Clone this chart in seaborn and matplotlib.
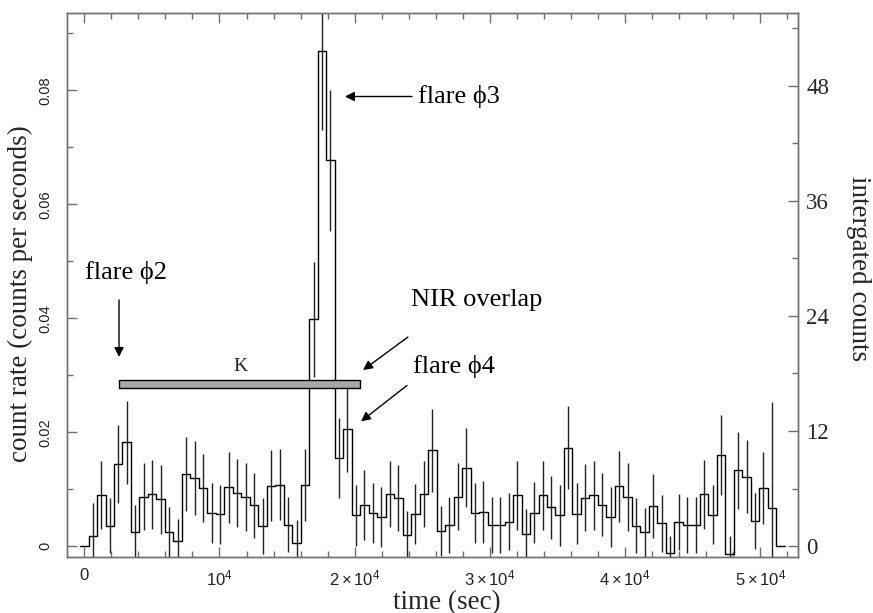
import numpy as np
import pandas as pd
import matplotlib
matplotlib.use("Agg")
import matplotlib.pyplot as plt
from matplotlib.ticker import MultipleLocator
import seaborn as sns

# ---------------- data ----------------
bin_width = 628.0  # s
rate = [
    0.0000, 0.0018, 0.0090, 0.0036, 0.0144, 0.0182, 0.0025, 0.0087, 0.0091, 0.0082,
    0.0024, 0.0009, 0.0126, 0.0120, 0.0102, 0.0058, 0.0056, 0.0103, 0.0093, 0.0086,
    0.0072, 0.0036, 0.0106, 0.0108, 0.0038, 0.0006, 0.0108, 0.0398, 0.0869, 0.0677,
    0.0155, 0.0205, 0.0054, 0.0072, 0.0058, 0.0051, 0.0092, 0.0084, 0.0020, 0.0056,
    0.0091, 0.0168, 0.0026, 0.0037, 0.0087, 0.0138, 0.0058, 0.0060, 0.0037, 0.0037,
    0.0043, 0.0089, 0.0022, 0.0059, 0.0089, 0.0068, 0.0054, 0.0173, 0.0057, 0.0085,
    0.0089, 0.0073, 0.0051, 0.0105, 0.0086, 0.0036, 0.0024, 0.0070, 0.0040, -0.0012,
    0.0042, 0.0037, 0.0037, 0.0091, 0.0055, 0.0160, -0.0013, 0.0133, 0.0122, 0.0044,
    0.0102, 0.0067, 0.0000,
]
rate_err = [
    0.0, 0.0057, 0.0059, 0.0048, 0.0068, 0.0073, 0.0047, 0.0059, 0.0060, 0.0060,
    0.0045, 0.0038, 0.0065, 0.0065, 0.0060, 0.0053, 0.0052, 0.0063, 0.0060, 0.0060,
    0.0057, 0.0049, 0.0062, 0.0062, 0.0048, 0.0040, 0.0063, 0.0101, 0.0139, 0.0124,
    0.0070, 0.0075, 0.0053, 0.0061, 0.0053, 0.0052, 0.0058, 0.0058, 0.0041, 0.0053,
    0.0058, 0.0073, 0.0044, 0.0049, 0.0059, 0.0069, 0.0053, 0.0054, 0.0049, 0.0049,
    0.0050, 0.0060, 0.0043, 0.0054, 0.0060, 0.0055, 0.0053, 0.0073, 0.0053, 0.0059,
    0.0060, 0.0056, 0.0053, 0.0062, 0.0060, 0.0048, 0.0043, 0.0056, 0.0050, 0.0030,
    0.0049, 0.0049, 0.0049, 0.0060, 0.0052, 0.0071, 0.0030, 0.0067, 0.0064, 0.0049,
    0.0063, 0.0186, 0.0,
]
time = np.arange(len(rate)) * bin_width

# NIR (K band) overlap bar
nir_start = 2570.0
nir_end = 20400.0
nir_rate = 0.0284
nir_height = 0.0014

counts_per_rate = 594.0   # right axis scale (integrated counts)

x_ticks = [0, 1e4, 2e4, 3e4, 4e4, 5e4]
x_tick_labels = ["0", r"$10^4$", r"$2\times10^4$", r"$3\times10^4$", r"$4\times10^4$", r"$5\times10^4$"]
y_ticks = [0, 0.02, 0.04, 0.06, 0.08]
y_tick_labels = ["0", "0.02", "0.04", "0.06", "0.08"]
y2_ticks = [0, 12, 24, 36, 48]
y2_tick_labels = ["0", "12", "24", "36", "48"]

# ---------------- style ----------------
sns.set_theme(style="ticks")
plt.rcParams["font.family"] = ["Liberation Serif", "DejaVu Serif"]
plt.rcParams["mathtext.fontset"] = "custom"
plt.rcParams["mathtext.rm"] = "Liberation Sans"
plt.rcParams["mathtext.it"] = "Liberation Sans:italic"
plt.rcParams["mathtext.bf"] = "Liberation Sans:bold"
serif = ["Liberation Serif", "DejaVu Serif"]
sans = ["Liberation Sans", "DejaVu Sans"]
spine_col = "#707070"

fig = plt.figure(figsize=(8.73, 6.13), dpi=100)
ax = fig.add_axes([66.7 / 873, 1 - 557 / 613, (797.7 - 66.7) / 873, (557 - 13.3) / 613])

# step histogram
edges = np.append(time - bin_width / 2, time[-1] + bin_width / 2)
step_vals = np.append(rate, rate[-1])
df = pd.DataFrame({"t": edges, "r": step_vals})
sns.lineplot(data=df, x="t", y="r", drawstyle="steps-post", color="black",
             lw=1.0, estimator=None, sort=False, ax=ax)
ax.errorbar(time, rate, yerr=rate_err, fmt="none", ecolor="#222222",
            elinewidth=1.0, capsize=0)

# NIR bar
ax.barh(y=nir_rate, width=nir_end - nir_start, left=nir_start, height=nir_height,
        color="#a8a8a8", edgecolor="black", linewidth=1.0, zorder=3)

ax.set_xlim(-1300, 52770)
ax.set_ylim(-0.0019, 0.0935)

# ticks
ax.set_xticks(x_ticks)
ax.set_xticklabels(x_tick_labels, fontfamily=sans, fontsize=12, color="#222222")
ax.xaxis.set_minor_locator(MultipleLocator(2000))
ax.set_yticks(y_ticks)
ax.set_yticklabels(y_tick_labels, fontfamily=sans, fontsize=10.5, color="#222222",
                   rotation=90, va="center")
ax.yaxis.set_minor_locator(MultipleLocator(0.01))
ax.tick_params(axis="both", which="both", direction="in", top=True, right=False,
               color=spine_col, width=1.0)
ax.tick_params(axis="both", which="major", length=7)
ax.tick_params(axis="both", which="minor", length=4)
ax.tick_params(axis="x", which="major", pad=8)
ax.tick_params(axis="y", which="major", pad=10)
for s in ax.spines.values():
    s.set_color(spine_col)
    s.set_linewidth(1.0)

ax.set_xlabel("time (sec)", fontsize=19.5, fontfamily=serif)
ax.xaxis.set_label_coords(0.52, -0.06)
ax.set_ylabel("count rate (counts per seconds)", fontsize=19.5, fontfamily=serif)
ax.yaxis.set_label_coords(-0.046, 0.484)

# right axis
ax2 = ax.twinx()
lo, hi = ax.get_ylim()
ax2.set_ylim(lo * counts_per_rate, hi * counts_per_rate)
ax2.set_yticks(y2_ticks)
ax2.set_yticklabels(y2_tick_labels, fontfamily=serif, fontsize=16.5)
ax2.yaxis.set_minor_locator(MultipleLocator(6))
ax2.tick_params(axis="y", which="both", direction="in", color=spine_col, width=1.0)
ax2.tick_params(axis="y", which="major", length=7, pad=6)
ax2.tick_params(axis="y", which="minor", length=4)
for s in ax2.spines.values():
    s.set_color(spine_col)
    s.set_linewidth(1.0)
ax2.set_ylabel("intergated counts", fontsize=19.5, fontfamily=serif, rotation=270)
ax2.yaxis.set_label_coords(1.100, 0.53)

# annotations
txt = dict(fontsize=19, fontfamily=serif, color="black", va="center", ha="left")
arrow = dict(arrowstyle="-|>", color="black", lw=1.0, mutation_scale=14,
             shrinkA=0, shrinkB=0)

ax.text(52, 0.0481, "flare \u03d52", **txt)
ax.annotate("", xy=(2570, 0.0332), xytext=(2570, 0.0432), arrowprops=arrow)

ax.text(24680, 0.0789, "flare \u03d53", **txt)
ax.annotate("", xy=(19280, 0.0789), xytext=(24240, 0.0789), arrowprops=arrow)

ax.text(24170, 0.0432, "NIR overlap", **txt)
ax.annotate("", xy=(20620, 0.0309), xytext=(23940, 0.0367), arrowprops=arrow)

ax.text(24320, 0.0316, "flare \u03d54", **txt)
ax.annotate("", xy=(20470, 0.0219), xytext=(23870, 0.0282), arrowprops=arrow)

ax.text(11520, 0.0316, "K", fontsize=14, fontfamily=serif, ha="center", va="center")

fig.savefig("out.png", dpi=100)
